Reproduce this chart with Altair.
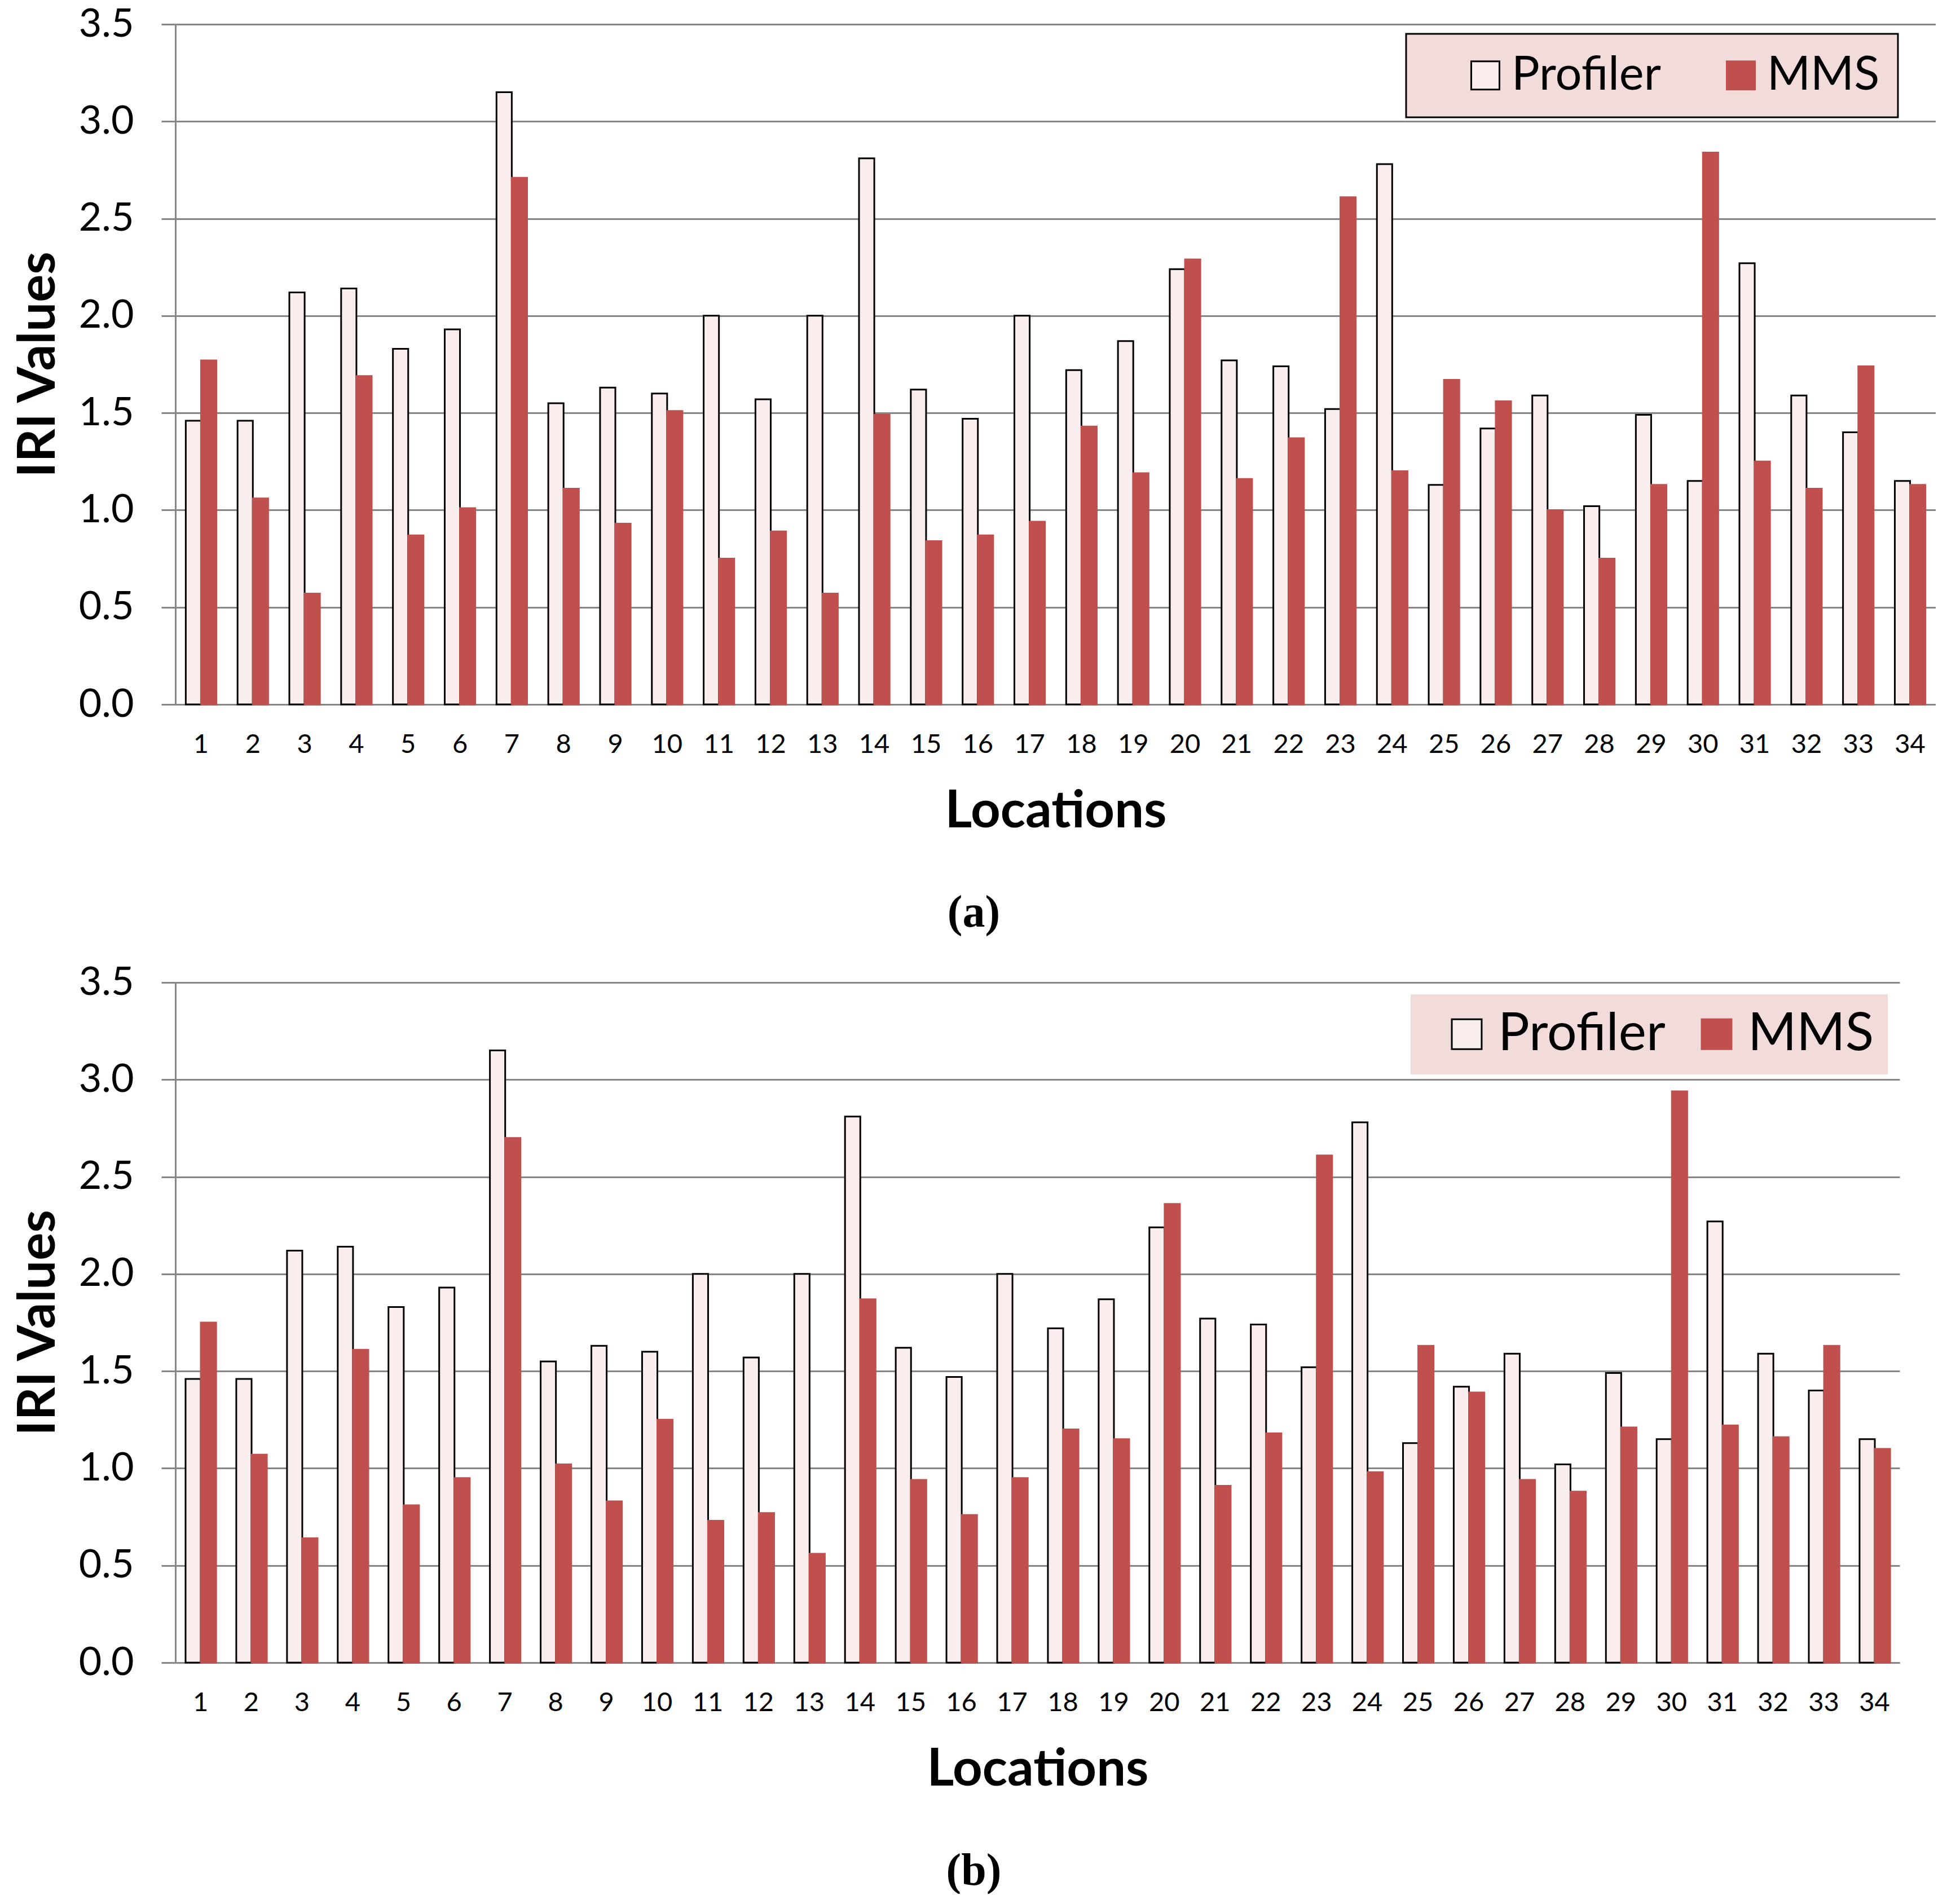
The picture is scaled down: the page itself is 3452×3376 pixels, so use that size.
import pandas as pd
import altair as alt

LOCATIONS = list(range(1, 35))
SERIES = ["Profiler", "MMS"]
PROFILER = [1.46, 1.46, 2.12, 2.14, 1.83, 1.93, 3.15, 1.55, 1.63, 1.60, 2.00, 1.57,
            2.00, 2.81, 1.62, 1.47, 2.00, 1.72, 1.87, 2.24, 1.77, 1.74, 1.52, 2.78,
            1.13, 1.42, 1.59, 1.02, 1.49, 1.15, 2.27, 1.59, 1.40, 1.15]
MMS_A = [1.77, 1.06, 0.57, 1.69, 0.87, 1.01, 2.71, 1.11, 0.93, 1.51, 0.75, 0.89,
         0.57, 1.49, 0.84, 0.87, 0.94, 1.43, 1.19, 2.29, 1.16, 1.37, 2.61, 1.20,
         1.67, 1.56, 1.00, 0.75, 1.13, 2.84, 1.25, 1.11, 1.74, 1.13]
MMS_B = [1.75, 1.07, 0.64, 1.61, 0.81, 0.95, 2.70, 1.02, 0.83, 1.25, 0.73, 0.77,
         0.56, 1.87, 0.94, 0.76, 0.95, 1.20, 1.15, 2.36, 0.91, 1.18, 2.61, 0.98,
         1.63, 1.39, 0.94, 0.88, 1.21, 2.94, 1.22, 1.16, 1.63, 1.10]
Y_TICKS = [0, 0.5, 1.0, 1.5, 2.0, 2.5, 3.0, 3.5]

FONT = "Lato"
GRID = "#868686"
PROFILER_FILL = "#FAEDED"
MMS_COLOR = "#C0504D"
LEGEND_FILL = "#F2DCDB"


def make_df(mms):
    return pd.DataFrame({
        "location": LOCATIONS * 2,
        "series": ["Profiler"] * len(LOCATIONS) + ["MMS"] * len(LOCATIONS),
        "value": PROFILER + mms,
    })


def panel(mms, caption, width, height, dx, legend, title_pad):
    df = make_df(mms)
    chart = (
        alt.Chart(df)
        .mark_bar(strokeWidth=3)
        .encode(
            x=alt.X(
                "location:O",
                title="Locations",
                scale=alt.Scale(paddingInner=0.41, paddingOuter=0.2),
                axis=alt.Axis(
                    labelAngle=0, labelFontSize=47, labelFont=FONT, labelColor="black",
                    labelPadding=48, ticks=False, tickSize=0,
                    domainColor=GRID, domainWidth=3,
                    titleFont=FONT, titleFontSize=92, titleFontWeight="bold",
                    titleColor="black", titlePadding=50)),
            xOffset=alt.XOffset("series:N", sort=SERIES,
                                scale=alt.Scale(paddingInner=0, paddingOuter=0)),
            y=alt.Y(
                "value:Q",
                title="IRI Values",
                scale=alt.Scale(domain=[0, 3.5], nice=False),
                axis=alt.Axis(
                    values=Y_TICKS, format=".1f", labelFontSize=70, labelFont=FONT,
                    labelColor="black", labelPadding=49,
                    tickSize=25, tickColor=GRID, tickWidth=3,
                    domainColor=GRID, domainWidth=3,
                    grid=True, gridColor=GRID, gridWidth=3,
                    titleFont=FONT, titleFontSize=92, titleFontWeight="bold",
                    titleColor="black", titlePadding=title_pad)),
            color=alt.Color("series:N", sort=SERIES,
                            scale=alt.Scale(domain=SERIES, range=[PROFILER_FILL, MMS_COLOR]),
                            legend=legend),
            stroke=alt.Stroke("series:N", sort=SERIES,
                              scale=alt.Scale(domain=SERIES, range=["black", MMS_COLOR]),
                              legend=legend),
        )
        .properties(
            width=width, height=height,
            title=alt.TitleParams(
                caption, orient="bottom", anchor="middle", frame="group",
                font="Liberation Serif", fontSize=80, fontWeight="bold",
                color="black", offset=96, dx=dx),
        )
    )
    return chart


legend_a = alt.Legend(
    title=" ", titleOrient="left", titleFontSize=1, titlePadding=67,
    orient="none", legendX=2182, legendY=17, direction="horizontal",
    fillColor=LEGEND_FILL, strokeColor="black", padding=32,
    symbolType="square", symbolSize=2500, symbolStrokeWidth=3,
    labelFont=FONT, labelFontSize=83, labelColor="black", labelOffset=5,
    labelLimit=600, columnPadding=100)

legend_b = alt.Legend(
    title=" ", titleOrient="left", titleFontSize=1, titlePadding=29,
    orient="none", legendX=2190, legendY=21, direction="horizontal",
    fillColor=LEGEND_FILL, padding=24,
    symbolType="square", symbolSize=2800, symbolStrokeWidth=3,
    labelFont=FONT, labelFontSize=93, labelColor="black", labelOffset=9,
    labelLimit=600, columnPadding=44)

chart_a = panel(MMS_A, "(a)", 3121, 1206, -145, legend_a, 24)
chart_b = panel(MMS_B, "(b)", 3057, 1206, -113, legend_b, 24)

chart = (
    alt.vconcat(chart_a, chart_b, spacing=48)
    .resolve_scale(color="independent", stroke="independent")
    .properties(padding={"left": 14, "top": 0, "right": 0, "bottom": 0})
    .configure_view(strokeWidth=0)
    .configure_legend(strokeWidth=3)
)

chart.save("out.html", embed_options={"renderer": "svg", "actions": False})
